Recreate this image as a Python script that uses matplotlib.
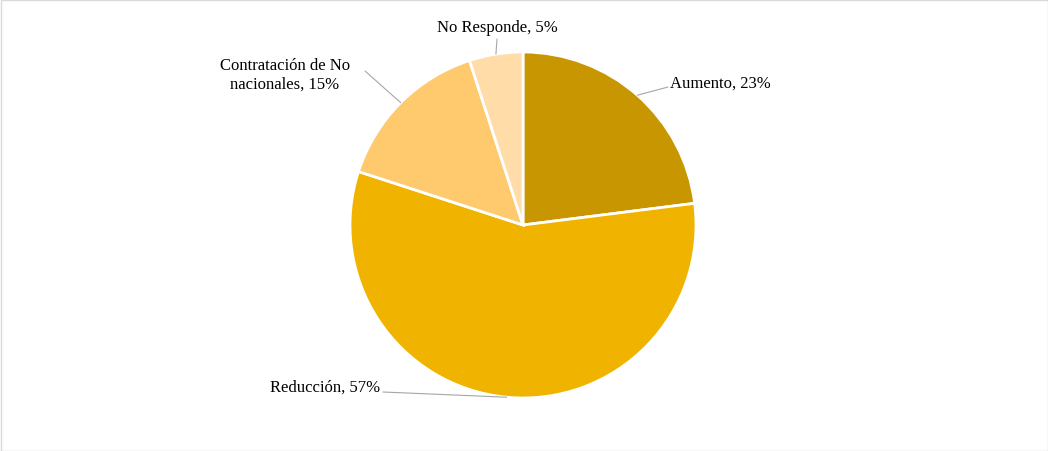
import matplotlib
matplotlib.use("Agg")
import matplotlib.pyplot as plt
import numpy as np
from matplotlib.patches import Rectangle

categories = ["Aumento", "Reducción", "Contratación de No\nnacionales", "No Responde"]
values = [23, 57, 15, 5]
colors = ["#C89600", "#F0B400", "#FFC96E", "#FFDCA8"]

W, H = 1048, 452
fig = plt.figure(figsize=(W/100, H/100), dpi=100)
fig.patches.append(Rectangle((0.5/W, 0.5/H), 1-1/W, 1-1/H, transform=fig.transFigure,
                             fill=False, edgecolor="#D9D9D9", linewidth=1))
cx, cy, r = 523, 452-226, 173
ax = fig.add_axes([(cx-r)/W, (cy-r)/H, 2*r/W, 2*r/H])
wedges, _ = ax.pie(values, colors=colors, startangle=90, counterclock=False,
                   wedgeprops=dict(edgecolor="white", linewidth=2), radius=1)
ax.set_xlim(-1, 1); ax.set_ylim(-1, 1); ax.set_aspect("auto")

# text anchor positions (figure pixels, from top) and alignment
label_pos = [(670, 84, "left"), (380, 388, "right"), (285, 75, "center"), (497, 28, "center")]
line_end = [(668, 88), (383, 393), (365, 72), (497, 40)]
font = dict(family="Liberation Serif", fontsize=12, color="#000000")
for w, v, c, (tx, ty, ha), (lx, ly) in zip(wedges, values, categories, label_pos, line_end):
    ang = np.deg2rad((w.theta1 + w.theta2) / 2)
    px, py = np.cos(ang), np.sin(ang)
    ax.annotate("", xy=(px, py), xycoords="data", xytext=(lx, H-ly), textcoords="figure pixels",
                arrowprops=dict(arrowstyle="-", color="#A6A6A6", lw=0.8, shrinkA=0, shrinkB=0))
    fig.text(tx/W, 1-ty/H, f"{c}, {v}%", ha=ha, va="center", **font)

fig.savefig("out.png", dpi=100)
